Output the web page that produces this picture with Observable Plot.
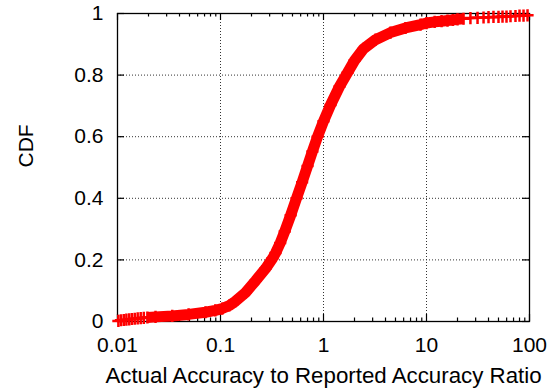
<!DOCTYPE html>
<html>
<head>
<meta charset="utf-8">
<script src="https://cdn.jsdelivr.net/npm/d3@7"></script>
<script src="https://cdn.jsdelivr.net/npm/@observablehq/plot@0.6"></script>
<style>
  body { margin: 0; background: #fff; }
</style>
</head>
<body>
<div id="chart"></div>
<script>
// Empirical CDF of the actual / reported accuracy ratio
const ratio = [
  0.0102, 0.0108, 0.0115, 0.0122, 0.0130, 0.0138, 0.0147, 0.0157, 0.0168, 0.0180, 0.0195,
  0.0234, 0.034, 0.049, 0.0715, 0.089, 0.104, 0.122, 0.140, 0.175, 0.219, 0.274, 0.32,
  0.342, 0.38, 0.42, 0.48, 0.547, 0.62, 0.70, 0.78, 0.875, 1.0, 1.17, 1.43, 1.71, 2.0,
  2.44, 3.2, 4.47, 6.25, 8.75, 10, 12, 14, 16, 18, 20, 22.9, 26.7, 31.3, 35.8, 40, 44.7,
  50, 54.7, 59.8, 65.4, 73.1, 80, 87.5, 95.7
];
const cdf = [
  0.002, 0.004, 0.005, 0.006, 0.007, 0.008, 0.009, 0.010, 0.011, 0.012, 0.013,
  0.015, 0.018, 0.023, 0.030, 0.036, 0.042, 0.052, 0.066, 0.094, 0.132, 0.172, 0.205,
  0.222, 0.255, 0.292, 0.345, 0.400, 0.452, 0.505, 0.552, 0.600, 0.650, 0.703, 0.763, 0.808, 0.847,
  0.885, 0.915, 0.938, 0.953, 0.964, 0.969, 0.973, 0.975, 0.977, 0.979, 0.981, 0.983, 0.985, 0.986, 0.987, 0.988, 0.989,
  0.989, 0.990, 0.990, 0.991, 0.992, 0.993, 0.993, 0.994
];

const xTicks = [0.01, 0.1, 1, 10, 100];
const xTickLabels = ["0.01", "0.1", "1", "10", "100"];
const xMinorSteps = [2, 3, 4, 5, 6, 7, 8, 9];
const yTicks = [0, 0.2, 0.4, 0.6, 0.8, 1];
const yTickLabels = ["0", "0.2", "0.4", "0.6", "0.8", "1"];
const xTitle = "Actual Accuracy to Reported Accuracy Ratio";
const yTitle = "CDF";

const points = ratio.map((r, i) => ({ratio: r, cdf: cdf[i]}));
const xMinor = xTicks.slice(0, -1).flatMap(d => xMinorSteps.map(s => d * s));
const xGrid = xTicks.slice(1, -1);
const yGrid = yTicks.slice(1, -1);
const xMin = xTicks[0], xMax = xTicks[xTicks.length - 1];
const yMin = yTicks[0], yMax = yTicks[yTicks.length - 1];

const red = "#ff0000";
const dotted = {stroke: "#333", strokeWidth: 1, strokeDasharray: "1,2"};
const tick = {stroke: "#000", strokeWidth: 1.2};

const chart = Plot.plot({
  width: 554,
  height: 392,
  marginLeft: 117,
  marginRight: 25,
  marginTop: 13,
  marginBottom: 71,
  style: {
    fontFamily: "'Liberation Sans', Arial, Helvetica, sans-serif",
    fontSize: "21px",
    color: "#000",
    background: "#fff"
  },
  x: {
    type: "log",
    domain: [xMin, xMax],
    ticks: xTicks,
    tickFormat: d => xTickLabels[xTicks.indexOf(d)],
    tickSize: 0,
    tickPadding: 16,
    label: null
  },
  y: {
    domain: [yMin, yMax],
    ticks: yTicks,
    tickFormat: d => yTickLabels[yTicks.indexOf(d)],
    tickSize: 0,
    tickPadding: 14,
    label: null
  },
  marks: [
    // dotted grid at the major ticks
    Plot.ruleX(xGrid, {x: d => d, ...dotted}),
    Plot.ruleY(yGrid, {y: d => d, ...dotted}),
    // border
    Plot.frame({stroke: "#000", strokeWidth: 1.3}),
    // inward ticks on all four sides
    Plot.ruleX(xTicks, {x: d => d, y1: () => yMin, y2: () => yMin, insetBottom: 7, ...tick}),
    Plot.ruleX(xTicks, {x: d => d, y1: () => yMax, y2: () => yMax, insetTop: 7, ...tick}),
    Plot.ruleX(xMinor, {x: d => d, y1: () => yMin, y2: () => yMin, insetBottom: 3.5, ...tick}),
    Plot.ruleX(xMinor, {x: d => d, y1: () => yMax, y2: () => yMax, insetTop: 3.5, ...tick}),
    Plot.ruleY(yTicks, {y: d => d, x1: () => xMin, x2: () => xMin, insetLeft: 7, ...tick}),
    Plot.ruleY(yTicks, {y: d => d, x1: () => xMax, x2: () => xMax, insetRight: 7, ...tick}),
    // the CDF: a heavy trace through the dense part, plus a "+" at each point
    Plot.line(points.filter(d => d.ratio >= 0.019 && d.ratio <= 23), {
      x: "ratio", y: "cdf", stroke: red, strokeWidth: 11, strokeLinejoin: "round", strokeLinecap: "butt"
    }),
    Plot.line(points, {x: "ratio", y: "cdf", stroke: red, strokeWidth: 2.5}),
    Plot.dot(points, {x: "ratio", y: "cdf", symbol: "plus", r: 4, stroke: red, strokeWidth: 2.5}),
    // axis titles
    Plot.text([xTitle], {frameAnchor: "bottom", dy: 61, fontSize: 22.3, fill: "#000"}),
    Plot.text([yTitle], {frameAnchor: "left", rotate: -90, dx: -91, fill: "#000"})
  ]
});

document.getElementById("chart").appendChild(chart);
</script>
</body>
</html>
